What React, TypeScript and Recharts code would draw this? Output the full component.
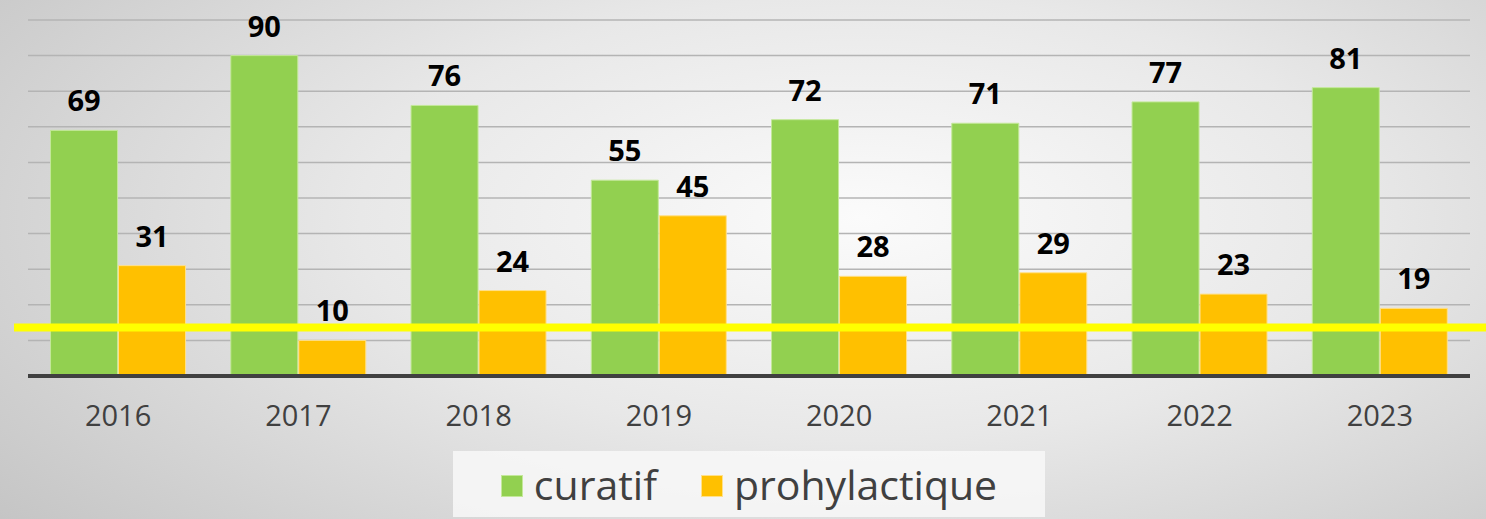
import { BarChart, Bar, XAxis, YAxis, CartesianGrid, LabelList, ReferenceLine, Legend } from 'recharts';

const years = ['2016', '2017', '2018', '2019', '2020', '2021', '2022', '2023'];
const curatif = [69, 90, 76, 55, 72, 71, 77, 81];
const prohylactique = [31, 10, 24, 45, 28, 29, 23, 19];
const yTicks = [0, 10, 20, 30, 40, 50, 60, 70, 80, 90, 100];
const seuil = 13.6;

const data = years.map((year, i) => ({
    year,
    curatif: curatif[i],
    prohylactique: prohylactique[i],
}));

const FONT = '"Open Sans", "DejaVu Sans", sans-serif';

const legendItems = [
    { label: 'curatif', color: '#92d050', border: '#c4e89a' },
    { label: 'prohylactique', color: '#ffc000', border: '#ffe08a' },
];

function ChartLegend() {
    return (
        <div
            style={{
                display: 'flex',
                alignItems: 'center',
                justifyContent: 'center',
                gap: 44,
                height: 66,
                background: 'rgba(248,248,248,0.85)',
                fontFamily: FONT,
                fontSize: 41,
                color: '#404040',
            }}
        >
            {legendItems.map(item => (
                <div key={item.label} style={{ display: 'flex', alignItems: 'center', gap: 11 }}>
                    <span
                        style={{
                            display: 'inline-block',
                            width: 22,
                            height: 22,
                            background: item.color,
                            border: `1px solid ${item.border}`,
                            boxSizing: 'border-box',
                            marginTop: 4,
                        }}
                    />
                    <span style={{ lineHeight: '66px' }}>{item.label}</span>
                </div>
            ))}
        </div>
    );
}

function SeuilLine(props: any) {
    const { x1, x2, y1 } = props;
    return <line x1={x1 - 14} x2={x2 + 16} y1={y1} y2={y1} stroke="#ffff00" strokeWidth={8} />;
}

export default function App() {
    return (
        <div
            style={{
                position: 'absolute',
                left: 0,
                top: 0,
                width: 1486,
                height: 519,
                background: 'radial-gradient(ellipse 75% 95% at 58% 42%, #fbfbfb 0%, #e8e8e8 45%, #c4c4c4 100%)',
                overflow: 'hidden',
            }}
        >
            <BarChart
                width={1486}
                height={519}
                data={data}
                margin={{ top: 20, right: 16, left: 28, bottom: 47 }}
                barCategoryGap="12.5%"
                barGap={1}
            >
                <CartesianGrid vertical={false} stroke="#b4b4b4" strokeWidth={1.5} />
                <YAxis hide domain={[0, 100]} ticks={yTicks} />
                <XAxis
                    dataKey="year"
                    height={30}
                    tickLine={false}
                    axisLine={{ stroke: '#404040', strokeWidth: 4 }}
                    tick={{ fill: '#404040', fontSize: 29, fontFamily: FONT, dy: 21 }}
                />
                <Bar dataKey="curatif" fill="#92d050" stroke="#c4e89a" strokeWidth={1} isAnimationActive={false}>
                    <LabelList
                        dataKey="curatif"
                        position="top"
                        offset={19}
                        fill="#000"
                        fontSize={29}
                        fontWeight="bold"
                        fontFamily={FONT}
                    />
                </Bar>
                <Bar dataKey="prohylactique" fill="#ffc000" stroke="#ffe08a" strokeWidth={1} isAnimationActive={false}>
                    <LabelList
                        dataKey="prohylactique"
                        position="top"
                        offset={19}
                        fill="#000"
                        fontSize={29}
                        fontWeight="bold"
                        fontFamily={FONT}
                    />
                </Bar>
                <ReferenceLine y={seuil} shape={SeuilLine} ifOverflow="visible" />
                <Legend
                    content={<ChartLegend />}
                    verticalAlign="bottom"
                    wrapperStyle={{ left: 453, width: 592, bottom: 2, height: 66 }}
                />
            </BarChart>
        </div>
    );
}
